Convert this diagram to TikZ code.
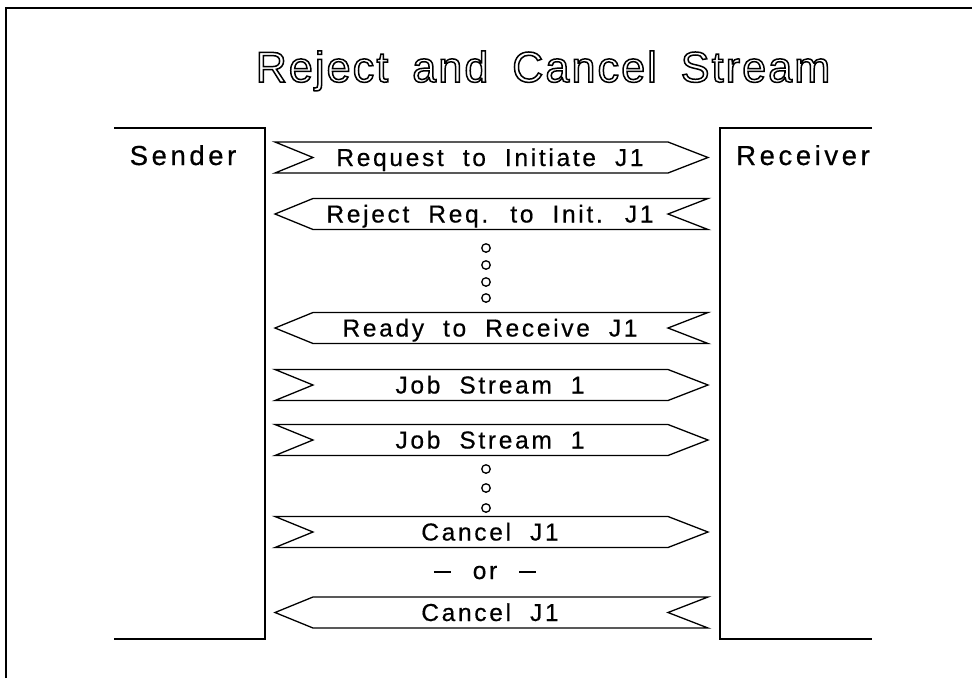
\documentclass[tikz,border=0pt]{standalone}
\usepackage{fontspec}
\usetikzlibrary{positioning}
\setmainfont{Liberation Sans}[LetterSpace=11,WordSpace=2,FakeBold=0.5]
\newfontfamily\titlefont{Liberation Sans}[LetterSpace=5,WordSpace=1.7]
\newfontfamily\sidefont{Liberation Sans}[LetterSpace=13,FakeBold=0.5]
\newcommand{\hollow}[1]{\special{pdf:literal direct 1 Tr 1.5 w}#1\special{pdf:literal direct 0 Tr}}
\newcommand{\ordash}{\rule[6.5pt]{17pt}{1.6pt}}
\tikzstyle{msg}=[line width=1.3pt,line join=miter]
\tikzstyle{msgtext}=[anchor=base,inner sep=0pt,font=\fontsize{24.5}{29}\selectfont]
\tikzstyle{side}=[anchor=base,inner sep=0pt,font=\sidefont\fontsize{27.5}{32}\selectfont]
\tikzstyle{lane}=[line width=1.5pt]
\tikzstyle{dot}=[draw,circle,line width=1.3pt,inner sep=0pt,minimum size=8.5pt]

% ribbon pointing to the receiver: #1 = y, #2 = name, #3 = text
\newcommand{\msgright}[3]{%
  \draw[msg] (275,#1-15.5) -- (668,#1-15.5) -- (708,#1) -- (668,#1+15.5) -- (275,#1+15.5) -- (313,#1) -- cycle;
  \node[msgtext] (#2) at (490,#1+8.5) {#3};}
% ribbon pointing to the sender
\newcommand{\msgleft}[3]{%
  \draw[msg] (708,#1-15.5) -- (313,#1-15.5) -- (275,#1) -- (313,#1+15.5) -- (708,#1+15.5) -- (668,#1) -- cycle;
  \node[msgtext] (#2) at (490,#1+8.5) {#3};}

\begin{document}
\begin{tikzpicture}[x=1pt,y=-1pt]
\useasboundingbox (0,0) rectangle (972,678);
\draw[line width=2pt] (6,678) -- (6,8) -- (972,8);
\node[anchor=base,font=\titlefont\fontsize{43}{48}\selectfont] (title) at (543,82)
  {\hollow{Reject and Cancel Stream}};
% sender and receiver
\draw[lane] (114,128) -- (265,128) -- (265,639) -- (114,639);
\draw[lane] (872,128) -- (720,128) -- (720,639) -- (872,639);
\node[side] (sender) at (183,165) {Sender};
\node[side] (receiver) at (803,165) {Receiver};
% messages
\msgright{157.5}{req}{Request to Initiate J1}
\msgleft{214}{rej}{Reject Req. to Init. J1}
\foreach \y [count=\i] in {248,265,282,298}
  \node[dot] (a\i) at (486,\y) {};
\msgleft{328}{rdy}{Ready to Receive J1}
\msgright{385}{js1}{Job Stream 1}
\msgright{440}{js2}{Job Stream 1}
\foreach \y [count=\i] in {469,488,508}
  \node[dot] (b\i) at (486,\y) {};
\msgright{532}{can1}{Cancel J1}
\node[msgtext] (or) at (485,579) {\ordash\hspace{22pt}or\hspace{22pt}\ordash};
\msgleft{612.5}{can2}{Cancel J1}
\end{tikzpicture}
\end{document}
